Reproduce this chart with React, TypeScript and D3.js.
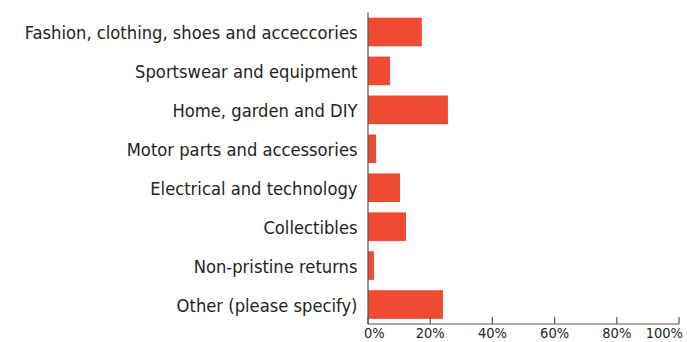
import React from "react";
import * as d3 from "d3";

const categories = [
  "Fashion, clothing, shoes and acceccories",
  "Sportswear and equipment",
  "Home, garden and DIY",
  "Motor parts and accessories",
  "Electrical and technology",
  "Collectibles",
  "Non-pristine returns",
  "Other (please specify)",
];
const values = [17.3, 7.1, 25.7, 2.6, 10.3, 12.2, 1.9, 24.1];
const tickValues = [0, 20, 40, 60, 80, 100];
const tickLabels = ["0%", "20%", "40%", "60%", "80%", "100%"];

const W = 687;
const H = 342;
const FONT = "'DejaVu Sans Condensed', 'Roboto', sans-serif";

export default function App() {
  const x = d3.scaleLinear().domain([0, 100]).range([368, 679]);
  const y = d3
    .scaleBand<string>()
    .domain(categories)
    .range([12.5, 324])
    .paddingInner(0.265)
    .paddingOuter(0.133);
  const axisY = 324;
  const textColor = "#231f20";
  const barColor = "#f04a32";

  return (
    <svg
      width={W}
      height={H}
      style={{ position: "absolute", left: 0, top: 0, background: "#fff" }}
      fontFamily={FONT}
    >
      {categories.map((c, i) => (
        <rect
          key={c}
          x={x(0)}
          y={y(c)}
          width={x(values[i]) - x(0)}
          height={y.bandwidth()}
          fill={barColor}
        />
      ))}
      {categories.map((c) => (
        <text
          key={"l" + c}
          x={357.5}
          y={(y(c) as number) + y.bandwidth() / 2}
          dy="0.4em"
          textAnchor="end"
          fontSize={18.2}
          fill={textColor}
        >
          {c}
        </text>
      ))}
      <line x1={x(0)} x2={x(0)} y1={12.5} y2={axisY} stroke="#555" strokeWidth={1.2} />
      <line x1={x(0)} x2={x(100)} y1={axisY} y2={axisY} stroke="#555" strokeWidth={1.2} />
      {tickValues.map((t, i) => (
        <g key={"t" + t}>
          <line x1={x(t)} x2={x(t)} y1={axisY} y2={axisY - 7} stroke="#555" strokeWidth={1.2} />
          <text
            x={i === 0 ? x(t) - 4 : i === tickValues.length - 1 ? x(t) + 4 : x(t)}
            y={338}
            textAnchor={i === 0 ? "start" : i === tickValues.length - 1 ? "end" : "middle"}
            fontSize={14.5}
            fill={textColor}
          >
            {tickLabels[i]}
          </text>
        </g>
      ))}
    </svg>
  );
}
